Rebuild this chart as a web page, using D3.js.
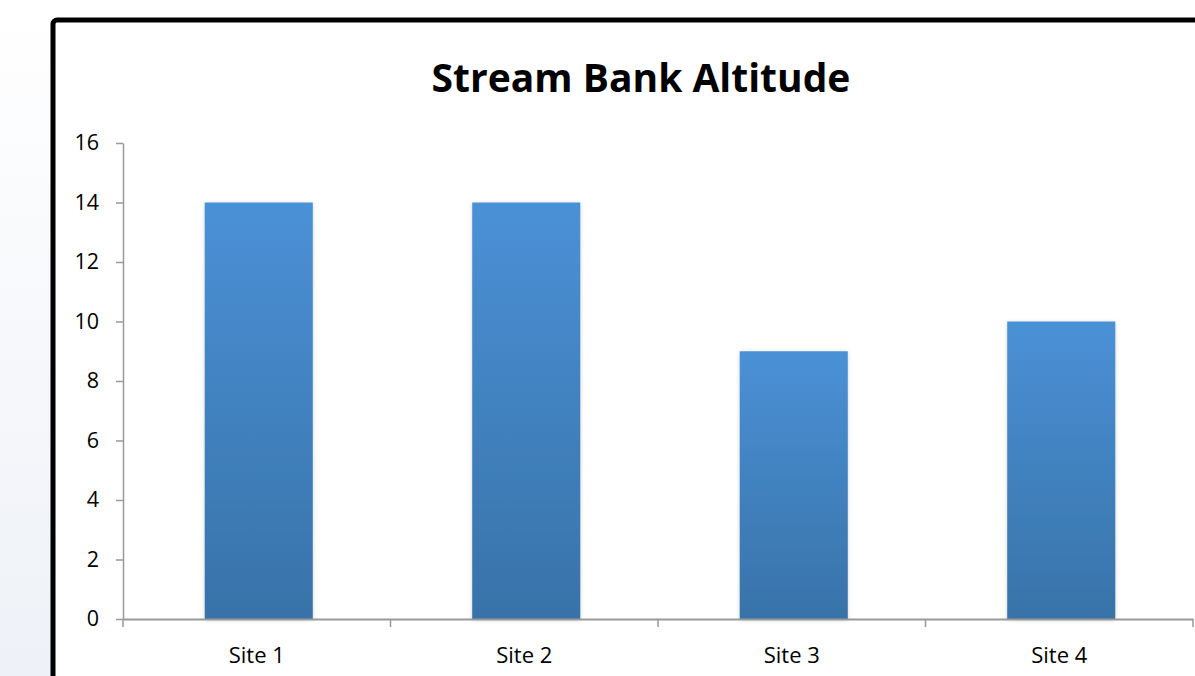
<!DOCTYPE html>
<html><head><meta charset="utf-8">
<script src="https://cdn.jsdelivr.net/npm/d3@7"></script>
<style>html,body{margin:0;padding:0;background:#fff;overflow:hidden}</style>
</head><body>
<svg id="c" width="1195" height="676"></svg>
<script>
const categories = ["Site 1","Site 2","Site 3","Site 4"];
const values = [14, 14, 9, 10];
const yTicks = [0,2,4,6,8,10,12,14,16];
const title = "Stream Bank Altitude";

const svg = d3.select("#c");
const defs = svg.append("defs");
const bg = defs.append("linearGradient").attr("id","bg").attr("x1",0).attr("y1",0).attr("x2",0).attr("y2",1);
bg.append("stop").attr("offset","0").attr("stop-color","#ffffff");
bg.append("stop").attr("offset","1").attr("stop-color","#eef1f7");
const bar = defs.append("linearGradient").attr("id","bar").attr("x1",0).attr("y1",0).attr("x2",0).attr("y2",1);
bar.append("stop").attr("offset","0").attr("stop-color","#4a91d6");
bar.append("stop").attr("offset","1").attr("stop-color","#3872a8");
const f = defs.append("filter").attr("id","sh").attr("x","-10%").attr("y","-5%").attr("width","120%").attr("height","110%");
f.append("feDropShadow").attr("dx",0).attr("dy",1).attr("stdDeviation",2).attr("flood-color","#000").attr("flood-opacity",0.18);

svg.append("rect").attr("width",1195).attr("height",676).attr("fill","url(#bg)");
svg.append("rect").attr("x",53).attr("y",20).attr("width",1200).attr("height",720).attr("rx",4)
  .attr("fill","#fff").attr("stroke","#000").attr("stroke-width",5);

const font = "'Open Sans', Carlito, Calibri, sans-serif";
svg.append("text").attr("x",641).attr("y",92).attr("text-anchor","middle")
  .attr("font-family",font).attr("font-weight","bold").attr("font-size",39).attr("fill","#000").text(title);

const x = d3.scaleBand().domain(categories).range([123,1193]).padding(0);
const y = d3.scaleLinear().domain([0,16]).range([619,143]);

const bw = x.bandwidth()*0.404;
svg.append("g").selectAll("rect").data(values).join("rect")
  .attr("x",(d,i)=>x(categories[i])+x.bandwidth()/2-bw/2+2)
  .attr("y",d=>y(d)).attr("width",bw).attr("height",d=>y(0)-y(d))
  .attr("fill","url(#bar)").attr("filter","url(#sh)");

const yAxis = svg.append("g").attr("transform","translate(123,0)")
  .call(d3.axisLeft(y).tickValues(yTicks).tickSize(7).tickPadding(17).tickSizeOuter(0));
yAxis.select(".domain").attr("stroke","#999").attr("stroke-width",1.5);
yAxis.selectAll(".tick line").attr("stroke","#999").attr("stroke-width",1.5);
yAxis.selectAll("text").attr("font-family",font).attr("font-size",21.5).attr("fill","#000");

const xAxis = svg.append("g").attr("transform","translate(0,619)")
  .call(d3.axisBottom(x).tickSize(0).tickPadding(28).tickSizeOuter(0));
xAxis.select(".domain").attr("stroke","#999").attr("stroke-width",2);
xAxis.selectAll("text").attr("font-family",font).attr("font-size",22).attr("fill","#000");
const bounds = [123].concat(categories.map(c=>x(c)+x.bandwidth()));
svg.append("g").selectAll("line").data(bounds).join("line")
  .attr("x1",d=>d).attr("x2",d=>d).attr("y1",619).attr("y2",627)
  .attr("stroke","#999").attr("stroke-width",1.5);
</script>
</body></html>
